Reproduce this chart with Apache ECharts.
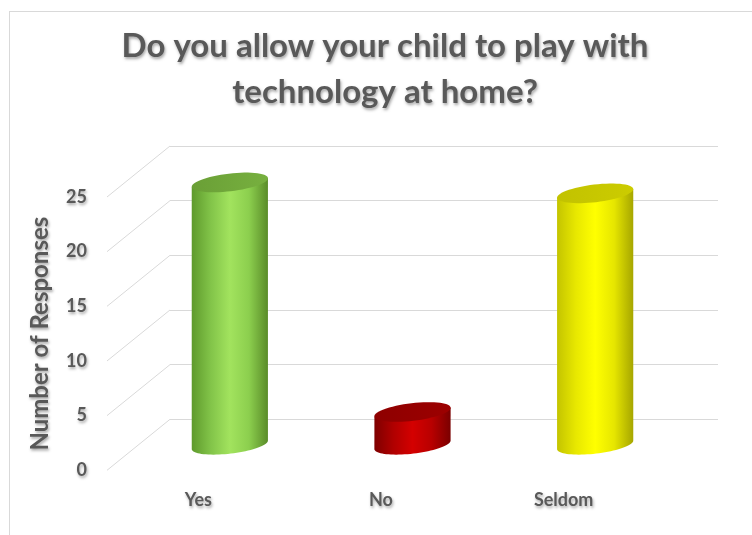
<!DOCTYPE html>
<html>
<head>
<meta charset="utf-8">
<script src="https://cdn.jsdelivr.net/npm/echarts@6/dist/echarts.min.js"></script>
<style>
  html, body { margin: 0; padding: 0; background: #fff; }
  #frame { position: absolute; left: 9px; top: 11px; width: 760px; height: 540px;
           border-left: 1px solid #d9d9d9; border-top: 1px solid #d9d9d9; }
  #chart { position: absolute; left: 0; top: 0; width: 752px; height: 535px; }
</style>
</head>
<body>
<div id="frame"></div>
<div id="chart"></div>
<script>
// ---- data ----
const categories = ['Yes', 'No', 'Seldom'];
const responses = [24, 3, 23];
const yTicks = [0, 5, 10, 15, 20, 25];
const chartTitle = 'Do you allow your child to play with\ntechnology at home?';
const yAxisName = 'Number of Responses';

// ---- styles ----
const TEXT = '#595959';
const FONT = 'Lato';
const GRID_COLOR = '#d9d9d9';
const DEPTH = [-63, 51];           // oblique projection: back wall -> front plane
const shadow = { textShadowColor: 'rgba(0,0,0,0.35)', textShadowBlur: 3, textShadowOffsetX: 1, textShadowOffsetY: 2 };
const palettes = [
  { side: ['#5e9a2c', '#82c449', '#a2e35e', '#8ccf4e', '#5a8c29'], top: ['#6a9f36', '#77b03f'] },
  { side: ['#7e0000', '#b00000', '#d40000', '#b80000', '#7a0000'], top: ['#8e0000', '#9c0000'] },
  { side: ['#c4c400', '#e8e800', '#ffff00', '#e6e600', '#a6a600'], top: ['#c2c200', '#cccc00'] }
];

function grad(stops) {
  const n = stops.length - 1;
  return { type: 'linear', x: 0, y: 0, x2: 1, y2: 0,
           colorStops: stops.map((c, k) => ({ offset: k / n, color: c })) };
}

function ellipsePt(cx, cy, a, b, th, t) {
  const ca = Math.cos(t), sa = Math.sin(t);
  return [cx + a * ca * Math.cos(th) + b * sa * Math.sin(th),
          cy - a * ca * Math.sin(th) + b * sa * Math.cos(th)];
}

function ellipsePts(cx, cy, a, b, th, t0, t1, n) {
  const pts = [];
  for (let k = 0; k <= n; k++) pts.push(ellipsePt(cx, cy, a, b, th, t0 + (t1 - t0) * k / n));
  return pts;
}

function renderCylinder(params, api) {
  const i = api.value(0);
  const v = api.value(1);
  const top = api.coord([i, v]);
  const base = api.coord([i, 0]);
  const w = api.size([1, 0])[0] * 0.42;
  const a = w / 2, b = w * 0.115, th = 0.117;
  const cx = top[0];
  const pal = palettes[i % palettes.length];
  const body = [ellipsePt(cx, top[1], a, b, th, Math.PI)]
    .concat(ellipsePts(cx, base[1], a, b, th, Math.PI, 0, 40))
    .concat([ellipsePt(cx, top[1], a, b, th, 0)]);
  const cap = ellipsePts(cx, top[1], a, b, th, 0, Math.PI * 2, 60);
  return {
    type: 'group',
    children: [
      { type: 'polygon', shape: { points: body }, style: { fill: grad(pal.side) } },
      { type: 'polygon', shape: { points: cap }, style: { fill: grad(pal.top) } }
    ]
  };
}

function renderDiagonal(params, api) {
  const p = api.coord([0, api.value(1)]);
  const x0 = p[0] - api.size([1, 0])[0] / 2;
  return {
    type: 'line',
    shape: { x1: x0, y1: p[1], x2: x0 + DEPTH[0], y2: p[1] + DEPTH[1] },
    style: { stroke: GRID_COLOR, lineWidth: 1 }
  };
}

const gridBack = { left: 170, top: 146, width: 548, height: 273.3 };
const gridBars = { left: gridBack.left + DEPTH[0] / 2, top: gridBack.top + DEPTH[1] / 2, width: 548, height: 273.3 };
const gridFront = { left: gridBack.left + DEPTH[0], top: gridBack.top + DEPTH[1], width: 548, height: 273.3 };

const yBase = { type: 'value', min: 0, max: 25, interval: 5 };

const chart = echarts.init(document.getElementById('chart'), null, { renderer: 'canvas' });
chart.setOption({
  animation: false,
  backgroundColor: 'transparent',
  title: {
    text: chartTitle,
    left: 385,
    top: 23,
    padding: 0,
    textAlign: 'center',
    textStyle: Object.assign({ color: TEXT, fontFamily: FONT, fontWeight: 'bold', fontSize: 33, lineHeight: 46 }, shadow)
  },
  grid: [
    Object.assign({ containLabel: false }, gridBack),
    Object.assign({ containLabel: false }, gridBars),
    Object.assign({ containLabel: false }, gridFront)
  ],
  xAxis: [
    { type: 'category', gridIndex: 0, data: categories, show: false },
    { type: 'category', gridIndex: 1, data: categories, show: false },
    { type: 'category', gridIndex: 2, data: categories,
      axisLine: { show: false }, axisTick: { show: false }, splitLine: { show: false },
      axisLabel: Object.assign({ margin: 21, color: TEXT, fontFamily: FONT, fontWeight: 'bold', fontSize: 18 }, shadow) }
  ],
  yAxis: [
    Object.assign({ gridIndex: 0, axisLine: { show: false }, axisTick: { show: false }, axisLabel: { show: false },
      splitLine: { show: true, lineStyle: { color: GRID_COLOR, width: 1 } } }, yBase),
    Object.assign({ gridIndex: 1, show: false, splitLine: { show: false } }, yBase),
    Object.assign({ gridIndex: 2, axisLine: { show: false }, axisTick: { show: false }, splitLine: { show: false },
      axisLabel: Object.assign({ margin: 20, color: TEXT, fontFamily: FONT, fontWeight: 'bold', fontSize: 18 }, shadow),
      name: yAxisName, nameLocation: 'middle', nameGap: 55, nameRotate: 90,
      nameTextStyle: Object.assign({ color: TEXT, fontFamily: FONT, fontWeight: 'bold', fontSize: 24 }, shadow) }, yBase)
  ],
  series: [
    { type: 'custom', xAxisIndex: 0, yAxisIndex: 0, clip: false, silent: true,
      renderItem: renderDiagonal, data: yTicks.map(t => [0, t]), z: 1 },
    { type: 'custom', xAxisIndex: 1, yAxisIndex: 1, clip: false,
      renderItem: renderCylinder, data: responses.map((v, i) => [i, v]), z: 5 }
  ]
});
</script>
</body>
</html>
